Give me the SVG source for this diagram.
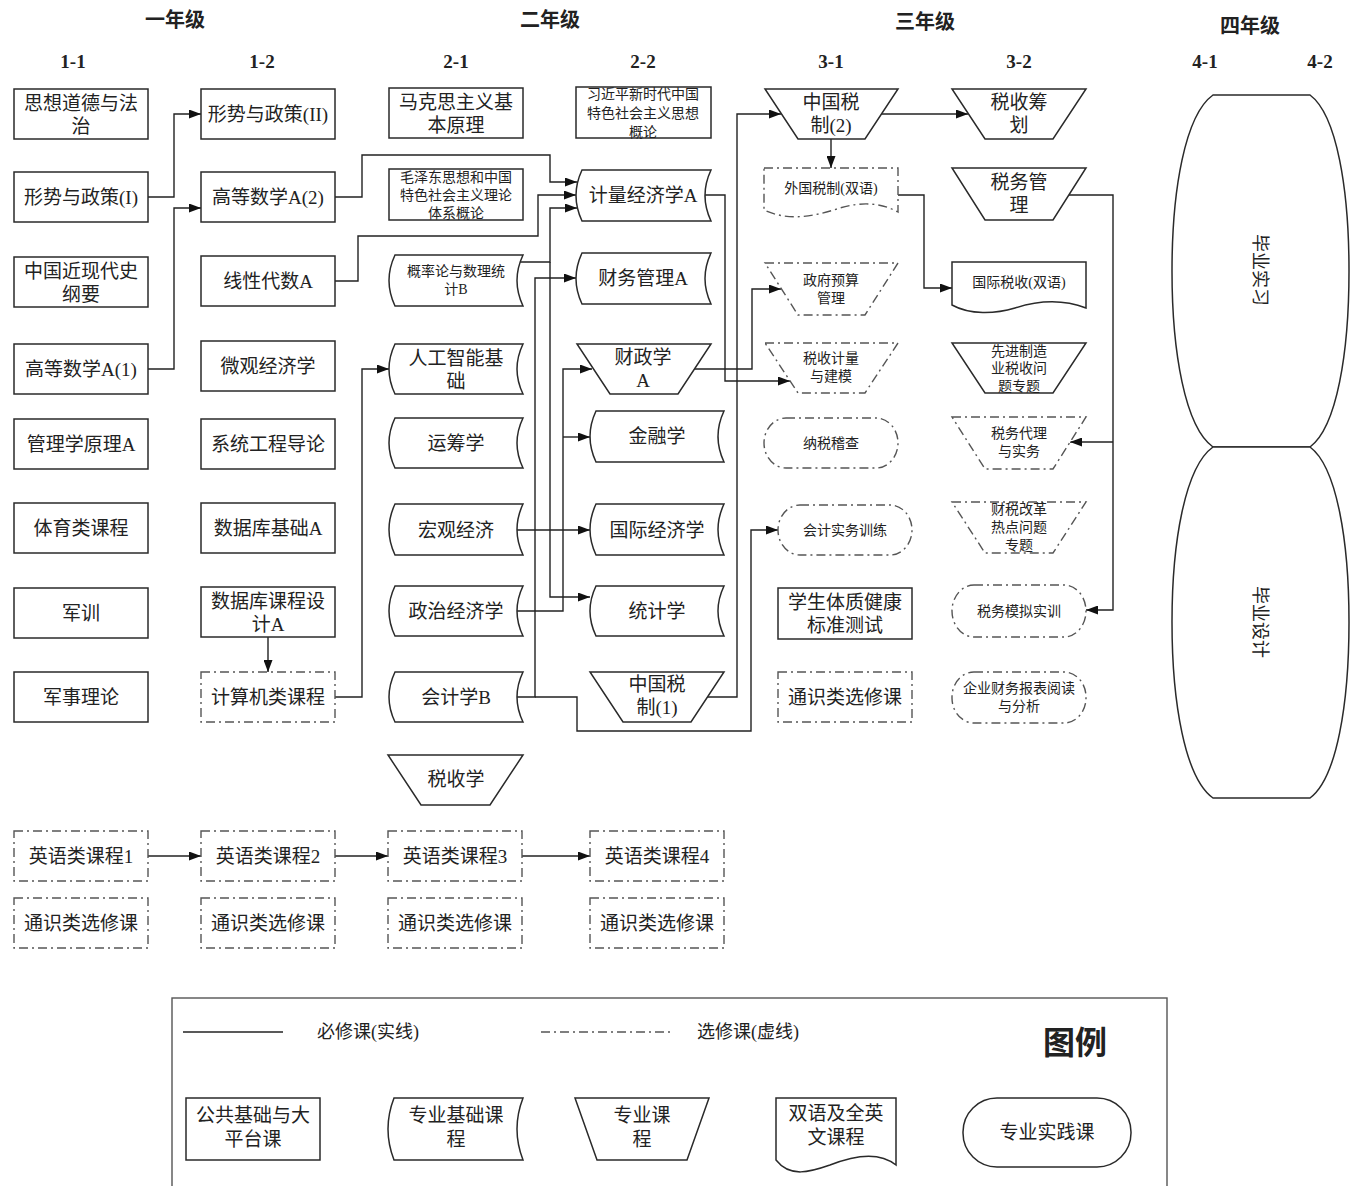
<svg xmlns="http://www.w3.org/2000/svg" width="1350" height="1186" viewBox="0 0 1350 1186">
<style>
.b{fill:#fff;stroke:#2a2a2a;stroke-width:1.5}
.d{fill:#fff;stroke:#555;stroke-width:1.4;stroke-dasharray:9 4 2 4}
.t{font-family:"Liberation Serif","Noto Sans CJK SC",serif;font-size:19px;fill:#222;text-anchor:middle;dominant-baseline:central}
.s{font-size:14px}
.h{font-family:"Noto Sans CJK SC",sans-serif;font-size:20px;font-weight:700;fill:#222;text-anchor:middle;dominant-baseline:central}
.sem{font-family:"Liberation Serif",serif;font-size:19px;font-weight:700;fill:#222;text-anchor:middle;dominant-baseline:central}
.c{fill:none;stroke:#222;stroke-width:1.4}
.a{marker-end:url(#arr)}
</style>
<defs>
<marker id="arr" viewBox="0 0 12 9" refX="12" refY="4.5" markerWidth="12" markerHeight="9" markerUnits="userSpaceOnUse" orient="auto"><path d="M0,0 L12,4.5 L0,9 z" fill="#111"/></marker>
</defs>
<rect width="1350" height="1186" fill="#fff"/>

<g id="headers">
<text class="h" x="175" y="18">一年级</text>
<text class="h" x="550" y="18">二年级</text>
<text class="h" x="925" y="20">三年级</text>
<text class="h" x="1250" y="24">四年级</text>
<text class="sem" x="73" y="61">1-1</text>
<text class="sem" x="262" y="61">1-2</text>
<text class="sem" x="456" y="61">2-1</text>
<text class="sem" x="643" y="61">2-2</text>
<text class="sem" x="831" y="61">3-1</text>
<text class="sem" x="1019" y="61">3-2</text>
<text class="sem" x="1205" y="61">4-1</text>
<text class="sem" x="1320" y="61">4-2</text>
</g>

<g id="connectors">
<path class="c a" d="M148,197 H174 V114 H201"/>
<path class="c a" d="M148,369 H174 V208 H201"/>
<path class="c a" d="M335,197 H362 V155 H550 V182 H577"/>
<path class="c a" d="M335,281 H358 V236 H538 V195 H576"/>
<path class="c a" d="M517,262 H550 V208 H577"/>
<path class="c a" d="M550,262 V597 H590"/>
<path class="c a" d="M517,697 H535 V278 H576"/>
<path class="c a" d="M535,697 H577 V731 H751 V530 H778"/>
<path class="c a" d="M706,697 H737 V114 H781"/>
<path class="c a" d="M705,195 H725 V381 H790"/>
<path class="c a" d="M694,369 H752 V289 H781"/>
<path class="c a" d="M517,611 H563 V369 H592"/>
<path class="c a" d="M563,437 H590"/>
<path class="c a" d="M517,530 H590"/>
<path class="c a" d="M898,195 H924 V288 H952"/>
<path class="c a" d="M881,114 H968"/>
<path class="c a" d="M831,139 V168"/>
<path class="c a" d="M1069,195 H1113 V610 H1086"/>
<path class="c a" d="M1113,442 H1070"/>
<path class="c a" d="M268,637 V672"/>
<path class="c a" d="M335,697 H362 V369 H389"/>
<path class="c a" d="M148,856 H201"/>
<path class="c a" d="M335,856 H388"/>
<path class="c a" d="M522,856 H590"/>
</g>

<g id="n11a"><rect class="b" x="14" y="89" width="134" height="50"/><text class="t" x="81" y="114"><tspan x="81" dy="-11.5">思想道德与法</tspan><tspan x="81" dy="23">治</tspan></text></g>
<g id="n11b"><rect class="b" x="14" y="172" width="134" height="50"/><text class="t" x="81" y="197">形势与政策(I)</text></g>
<g id="n11c"><rect class="b" x="14" y="257" width="134" height="50"/><text class="t" x="81" y="282"><tspan x="81" dy="-11.5">中国近现代史</tspan><tspan x="81" dy="23">纲要</tspan></text></g>
<g id="n11d"><rect class="b" x="14" y="344" width="134" height="50"/><text class="t" x="81" y="369">高等数学A(1)</text></g>
<g id="n11e"><rect class="b" x="14" y="419" width="134" height="50"/><text class="t" x="81" y="444">管理学原理A</text></g>
<g id="n11f"><rect class="b" x="14" y="503" width="134" height="50"/><text class="t" x="81" y="528">体育类课程</text></g>
<g id="n11g"><rect class="b" x="14" y="588" width="134" height="50"/><text class="t" x="81" y="613">军训</text></g>
<g id="n11h"><rect class="b" x="14" y="672" width="134" height="50"/><text class="t" x="81" y="697">军事理论</text></g>

<g id="n12a"><rect class="b" x="201" y="89" width="134" height="50"/><text class="t" x="268" y="114">形势与政策(II)</text></g>
<g id="n12b"><rect class="b" x="201" y="172" width="134" height="50"/><text class="t" x="268" y="197">高等数学A(2)</text></g>
<g id="n12c"><rect class="b" x="201" y="256" width="134" height="50"/><text class="t" x="268" y="281">线性代数A</text></g>
<g id="n12d"><rect class="b" x="201" y="341" width="134" height="50"/><text class="t" x="268" y="366">微观经济学</text></g>
<g id="n12e"><rect class="b" x="201" y="419" width="134" height="50"/><text class="t" x="268" y="444">系统工程导论</text></g>
<g id="n12f"><rect class="b" x="201" y="503" width="134" height="50"/><text class="t" x="268" y="528">数据库基础A</text></g>
<g id="n12g"><rect class="b" x="201" y="587" width="134" height="50"/><text class="t" x="268" y="612"><tspan x="268" dy="-11.5">数据库课程设</tspan><tspan x="268" dy="23">计A</tspan></text></g>
<g id="n12h"><rect class="d" x="201" y="672" width="134" height="50"/><text class="t" x="268" y="697">计算机类课程</text></g>

<g id="n21a"><rect class="b" x="389" y="88" width="134" height="50"/><text class="t" x="456" y="113"><tspan x="456" dy="-11.5">马克思主义基</tspan><tspan x="456" dy="23">本原理</tspan></text></g>
<g id="n21b"><rect class="b" x="389" y="169" width="134" height="51"/><text class="t s" x="456" y="195"><tspan x="456" dy="-18">毛泽东思想和中国</tspan><tspan x="456" dy="18">特色社会主义理论</tspan><tspan x="456" dy="18">体系概论</tspan></text></g>
<g id="n21c"><path class="b" d="M395,255 H523 Q511,280.5 523,306 H395 Q383,280.5 395,255 Z"/><text class="t s" x="456" y="280"><tspan x="456" dy="-9">概率论与数理统</tspan><tspan x="456" dy="18">计B</tspan></text></g>
<g id="n21d"><path class="b" d="M395,344 H523 Q511,369 523,394 H395 Q383,369 395,344 Z"/><text class="t" x="456" y="369"><tspan x="456" dy="-11.5">人工智能基</tspan><tspan x="456" dy="23">础</tspan></text></g>
<g id="n21e"><path class="b" d="M395,418 H523 Q511,443 523,468 H395 Q383,443 395,418 Z"/><text class="t" x="456" y="443">运筹学</text></g>
<g id="n21f"><path class="b" d="M395,504 H523 Q511,529.5 523,555 H395 Q383,529.5 395,504 Z"/><text class="t" x="456" y="530">宏观经济</text></g>
<g id="n21g"><path class="b" d="M395,586 H523 Q511,611 523,636 H395 Q383,611 395,586 Z"/><text class="t" x="456" y="611">政治经济学</text></g>
<g id="n21h"><path class="b" d="M395,672 H523 Q511,697 523,722 H395 Q383,697 395,672 Z"/><text class="t" x="456" y="697">会计学B</text></g>
<g id="n21i"><path class="b" d="M388,755 H523 L490,805 H421 Z"/><text class="t" x="456" y="779">税收学</text></g>

<g id="n22a"><rect class="b" x="576" y="87" width="135" height="51"/><text class="t s" x="643" y="113"><tspan x="643" dy="-19">习近平新时代中国</tspan><tspan x="643" dy="19">特色社会主义思想</tspan><tspan x="643" dy="19">概论</tspan></text></g>
<g id="n22b"><path class="b" d="M582,170 H711 Q699,195.5 711,221 H582 Q570,195.5 582,170 Z"/><text class="t" x="643" y="195">计量经济学A</text></g>
<g id="n22c"><path class="b" d="M582,253 H711 Q699,278.5 711,304 H582 Q570,278.5 582,253 Z"/><text class="t" x="643" y="278">财务管理A</text></g>
<g id="n22d"><path class="b" d="M577,344 H711 L678,394 H610 Z"/><text class="t" x="643" y="368"><tspan x="643" dy="-11.5">财政学</tspan><tspan x="643" dy="23">A</tspan></text></g>
<g id="n22e"><path class="b" d="M596,411 H724 Q712,436.5 724,462 H596 Q584,436.5 596,411 Z"/><text class="t" x="657" y="436">金融学</text></g>
<g id="n22f"><path class="b" d="M596,504 H724 Q712,529.5 724,555 H596 Q584,529.5 596,504 Z"/><text class="t" x="657" y="530">国际经济学</text></g>
<g id="n22g"><path class="b" d="M596,586 H724 Q712,611 724,636 H596 Q584,611 596,586 Z"/><text class="t" x="657" y="611">统计学</text></g>
<g id="n22h"><path class="b" d="M590,672 H724 L691,722 H623 Z"/><text class="t" x="657" y="695"><tspan x="657" dy="-11.5">中国税</tspan><tspan x="657" dy="23">制(1)</tspan></text></g>

<g id="n31a"><path class="b" d="M765,89 H898 L865,139 H798 Z"/><text class="t" x="831" y="113"><tspan x="831" dy="-11.5">中国税</tspan><tspan x="831" dy="23">制(2)</tspan></text></g>
<g id="n31b"><path class="d" d="M764,168 H898 V212 C880,202 860,202 840,208 C815,216 790,222 764,210 Z"/><text class="t s" x="831" y="188">外国税制(双语)</text></g>
<g id="n31c"><path class="d" d="M765,263 H898 L865,315 H798 Z"/><text class="t s" x="831" y="289"><tspan x="831" dy="-9">政府预算</tspan><tspan x="831" dy="18">管理</tspan></text></g>
<g id="n31d"><path class="d" d="M765,343 H898 L865,393 H798 Z"/><text class="t s" x="831" y="367"><tspan x="831" dy="-9">税收计量</tspan><tspan x="831" dy="18">与建模</tspan></text></g>
<g id="n31e"><rect class="d" x="764" y="418" width="134" height="50" rx="22" ry="25"/><text class="t s" x="831" y="443">纳税稽查</text></g>
<g id="n31f"><rect class="d" x="778" y="505" width="134" height="50" rx="22" ry="25"/><text class="t s" x="845" y="530">会计实务训练</text></g>
<g id="n31g"><rect class="b" x="778" y="588" width="134" height="51"/><text class="t" x="845" y="613"><tspan x="845" dy="-11.5">学生体质健康</tspan><tspan x="845" dy="23">标准测试</tspan></text></g>
<g id="n31h"><rect class="d" x="778" y="672" width="134" height="50"/><text class="t" x="845" y="697">通识类选修课</text></g>

<g id="n32a"><path class="b" d="M952,89 H1086 L1053,139 H985 Z"/><text class="t" x="1019" y="113"><tspan x="1019" dy="-11.5">税收筹</tspan><tspan x="1019" dy="23">划</tspan></text></g>
<g id="n32b"><path class="b" d="M952,168 H1086 L1053,220 H985 Z"/><text class="t" x="1019" y="193"><tspan x="1019" dy="-11.5">税务管</tspan><tspan x="1019" dy="23">理</tspan></text></g>
<g id="n32c"><path class="b" d="M952,262 H1086 V308 C1065,300 1040,300 1015,308 C995,314 970,315 952,305 Z"/><text class="t s" x="1019" y="282">国际税收(双语)</text></g>
<g id="n32d"><path class="b" d="M952,343 H1086 L1053,393 H985 Z"/><text class="t s" x="1019" y="368"><tspan x="1019" dy="-17.5">先进制造</tspan><tspan x="1019" dy="17.5">业税收问</tspan><tspan x="1019" dy="17.5">题专题</tspan></text></g>
<g id="n32e"><path class="d" d="M952,417 H1086 L1053,469 H985 Z"/><text class="t s" x="1019" y="442"><tspan x="1019" dy="-9">税务代理</tspan><tspan x="1019" dy="18">与实务</tspan></text></g>
<g id="n32f"><path class="d" d="M952,502 H1086 L1053,553 H985 Z"/><text class="t s" x="1019" y="527"><tspan x="1019" dy="-18">财税改革</tspan><tspan x="1019" dy="18">热点问题</tspan><tspan x="1019" dy="18">专题</tspan></text></g>
<g id="n32g"><rect class="d" x="952" y="585" width="134" height="52" rx="22" ry="26"/><text class="t s" x="1019" y="611">税务模拟实训</text></g>
<g id="n32h"><rect class="d" x="952" y="672" width="134" height="51" rx="22" ry="25"/><text class="t s" x="1019" y="697"><tspan x="1019" dy="-9">企业财务报表阅读</tspan><tspan x="1019" dy="18">与分析</tspan></text></g>

<g id="n4a"><path class="b" d="M1213,95 H1310 C1337,115 1349,190 1349,271 C1349,352 1337,427 1310,447 H1213 C1185,427 1172,352 1172,271 C1172,190 1185,115 1213,95 Z"/><text class="t" transform="translate(1262,270) rotate(90)" x="0" y="0" style="font-family:'Noto Sans CJK SC',sans-serif;font-size:18px">毕业实习</text></g>
<g id="n4b"><path class="b" d="M1213,447 H1310 C1337,467 1349,542 1349,622 C1349,703 1337,778 1310,798 H1213 C1185,778 1172,703 1172,622 C1172,542 1185,467 1213,447 Z"/><text class="t" transform="translate(1262,622) rotate(90)" x="0" y="0" style="font-family:'Noto Sans CJK SC',sans-serif;font-size:18px">毕业设计</text></g>

<g id="eng1"><rect class="d" x="14" y="831" width="134" height="50"/><text class="t" x="81" y="856">英语类课程1</text></g>
<g id="eng2"><rect class="d" x="201" y="831" width="134" height="50"/><text class="t" x="268" y="856">英语类课程2</text></g>
<g id="eng3"><rect class="d" x="388" y="831" width="134" height="50"/><text class="t" x="455" y="856">英语类课程3</text></g>
<g id="eng4"><rect class="d" x="590" y="831" width="134" height="50"/><text class="t" x="657" y="856">英语类课程4</text></g>
<g id="gen1"><rect class="d" x="14" y="898" width="134" height="50"/><text class="t" x="81" y="923">通识类选修课</text></g>
<g id="gen2"><rect class="d" x="201" y="898" width="134" height="50"/><text class="t" x="268" y="923">通识类选修课</text></g>
<g id="gen3"><rect class="d" x="388" y="898" width="134" height="50"/><text class="t" x="455" y="923">通识类选修课</text></g>
<g id="gen4"><rect class="d" x="590" y="898" width="134" height="50"/><text class="t" x="657" y="923">通识类选修课</text></g>

<g id="legend">
<rect x="172" y="998" width="995" height="200" fill="none" stroke="#555" stroke-width="1.4"/>
<line x1="183" y1="1032" x2="283" y2="1032" stroke="#222" stroke-width="1.4"/>
<text class="t" x="368" y="1032" style="font-size:18px">必修课(实线)</text>
<line x1="541" y1="1032" x2="670" y2="1032" stroke="#555" stroke-width="1.4" stroke-dasharray="9 4 2 4"/>
<text class="t" x="748" y="1032" style="font-size:18px">选修课(虚线)</text>
<text x="1075" y="1040" style="font-family:'Noto Sans CJK SC',sans-serif;font-size:32px;font-weight:700;fill:#222;text-anchor:middle;dominant-baseline:central">图例</text>
<rect class="b" x="186" y="1098" width="134" height="62"/>
<text class="t" x="253" y="1127"><tspan x="253" dy="-12">公共基础与大</tspan><tspan x="253" dy="24">平台课</tspan></text>
<path class="b" d="M394,1098 H523 Q511,1129 523,1160 H394 Q382,1129 394,1098 Z"/>
<text class="t" x="456" y="1127"><tspan x="456" dy="-12">专业基础课</tspan><tspan x="456" dy="24">程</tspan></text>
<path class="b" d="M575,1098 H709 L687,1160 H597 Z"/>
<text class="t" x="642" y="1127"><tspan x="642" dy="-12">专业课</tspan><tspan x="642" dy="24">程</tspan></text>
<path class="b" d="M776,1098 H896 V1165 C880,1152 855,1155 830,1165 C810,1172 790,1178 776,1160 Z"/>
<text class="t" x="836" y="1125"><tspan x="836" dy="-12">双语及全英</tspan><tspan x="836" dy="24">文课程</tspan></text>
<rect class="b" x="963" y="1098" width="168" height="69" rx="34" ry="34"/>
<text class="t" x="1047" y="1132">专业实践课</text>
</g>
</svg>
